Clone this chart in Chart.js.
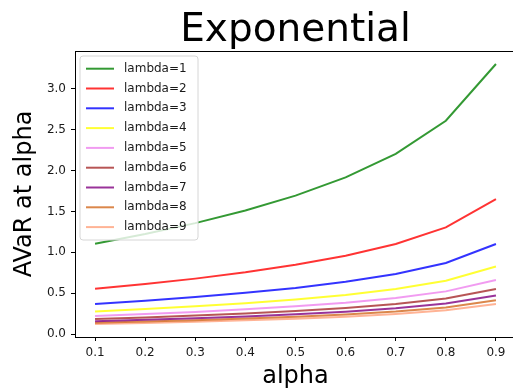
<!DOCTYPE html>
<html>
<head>
<meta charset="utf-8">
<script src="https://cdn.jsdelivr.net/npm/chart.js@4"></script>
<style>
  html, body { margin: 0; padding: 0; background: #fff; overflow: hidden; }
  canvas { display: block; }
</style>
</head>
<body>
<canvas id="myChart" width="520" height="391"></canvas>
<script>
const alphas = [0.1, 0.2, 0.3, 0.4, 0.5, 0.6, 0.7, 0.8, 0.9];

const avar1 = [1.105, 1.223, 1.357, 1.511, 1.693, 1.916, 2.204, 2.609, 3.303];
const avar2 = [0.553, 0.612, 0.678, 0.755, 0.847, 0.958, 1.102, 1.305, 1.651];
const avar3 = [0.368, 0.408, 0.452, 0.504, 0.564, 0.639, 0.735, 0.870, 1.101];
const avar4 = [0.276, 0.306, 0.339, 0.378, 0.423, 0.479, 0.551, 0.652, 0.826];
const avar5 = [0.221, 0.245, 0.271, 0.302, 0.339, 0.383, 0.441, 0.522, 0.661];
const avar6 = [0.184, 0.204, 0.226, 0.252, 0.282, 0.319, 0.367, 0.435, 0.550];
const avar7 = [0.158, 0.175, 0.194, 0.216, 0.242, 0.274, 0.315, 0.373, 0.472];
const avar8 = [0.138, 0.153, 0.170, 0.189, 0.212, 0.240, 0.276, 0.326, 0.413];
const avar9 = [0.123, 0.136, 0.151, 0.168, 0.188, 0.213, 0.245, 0.290, 0.367];

const labels = [
    "lambda=1", "lambda=2", "lambda=3", "lambda=4", "lambda=5",
    "lambda=6", "lambda=7", "lambda=8", "lambda=9",
];

const xTicks = [0.1, 0.2, 0.3, 0.4, 0.5, 0.6, 0.7, 0.8, 0.9];
const yTicks = [0.0, 0.5, 1.0, 1.5, 2.0, 2.5, 3.0];

// matplotlib named colours drawn with alpha 0.8
const colors = [
    'rgba(0,128,0,0.8)',
    'rgba(255,0,0,0.8)',
    'rgba(0,0,255,0.8)',
    'rgba(255,255,0,0.8)',
    'rgba(238,130,238,0.8)',
    'rgba(165,42,42,0.8)',
    'rgba(128,0,128,0.8)',
    'rgba(210,105,30,0.8)',
    'rgba(255,160,122,0.8)',
];

const series = [avar1, avar2, avar3, avar4, avar5, avar6, avar7, avar8, avar9];
const FONT = "'DejaVu Sans', sans-serif";

const datasets = series.map((vals, i) => ({
    label: labels[i],
    data: alphas.map((a, j) => ({x: a, y: vals[j]})),
    borderColor: colors[i],
    backgroundColor: colors[i],
    borderWidth: 2,
    pointRadius: 0,
    tension: 0,
    fill: false,
}));

// box round the plot, and the legend in the upper left corner
const frameAndLegend = {
    id: 'frameAndLegend',
    afterDraw(chart) {
        const c = chart.ctx;
        const a = chart.chartArea;
        c.save();
        c.strokeStyle = '#000';
        c.lineWidth = 1;
        c.strokeRect(Math.round(a.left) + 0.5, Math.round(a.top) + 0.5,
            Math.round(a.right - a.left), Math.round(a.bottom - a.top));

        const bx = 80, by = 56, bw = 118, bh = 184, r = 3;
        c.beginPath();
        c.moveTo(bx + r, by);
        c.arcTo(bx + bw, by, bx + bw, by + bh, r);
        c.arcTo(bx + bw, by + bh, bx, by + bh, r);
        c.arcTo(bx, by + bh, bx, by, r);
        c.arcTo(bx, by, bx + bw, by, r);
        c.closePath();
        c.fillStyle = 'rgba(255,255,255,0.8)';
        c.fill();
        c.strokeStyle = '#d6d6d6';
        c.stroke();

        c.font = '12px ' + FONT;
        c.textBaseline = 'middle';
        c.textAlign = 'left';
        chart.data.datasets.forEach((ds, i) => {
            const y = 68.7 + i * 19.8;
            c.strokeStyle = ds.borderColor;
            c.lineWidth = 2;
            c.beginPath();
            c.moveTo(86, y);
            c.lineTo(114, y);
            c.stroke();
            c.fillStyle = '#1a1a1a';
            c.fillText(ds.label, 124, y);
        });
        c.restore();
    }
};

const config = {
    type: 'line',
    data: {datasets: datasets},
    options: {
        responsive: false,
        animation: false,
        layout: {padding: {left: 0, right: 4, top: 0, bottom: 0}},
        plugins: {
            legend: {display: false},
            tooltip: {enabled: false},
            title: {
                display: true,
                fullSize: false,
                text: 'Exponential',
                color: '#000',
                font: {family: FONT, size: 39, weight: 'normal', lineHeight: 1.0},
                padding: {top: 11.5, bottom: 0.5},
            },
        },
        scales: {
            x: {
                type: 'linear',
                min: 0.06,
                max: 0.94,
                afterBuildTicks: s => { s.ticks = xTicks.map(v => ({value: v})); },
                afterFit: s => { s.height = 54; },
                ticks: {
                    color: '#1a1a1a',
                    font: {family: FONT, size: 12},
                    padding: 5,
                    maxRotation: 0,
                    callback: v => v.toFixed(1),
                },
                grid: {drawOnChartArea: false, drawTicks: true, tickLength: 4, color: '#000'},
                border: {display: true, color: '#000'},
                title: {
                    display: true,
                    text: 'alpha',
                    color: '#000',
                    font: {family: FONT, size: 24},
                    padding: {top: 0, bottom: 0},
                },
            },
            y: {
                type: 'linear',
                min: -0.036,
                max: 3.462,
                afterBuildTicks: s => { s.ticks = yTicks.map(v => ({value: v})); },
                afterFit: s => { s.width = 75; },
                ticks: {
                    color: '#1a1a1a',
                    font: {family: FONT, size: 12},
                    padding: 5,
                    callback: v => v.toFixed(1),
                },
                grid: {drawOnChartArea: false, drawTicks: true, tickLength: 4, color: '#000'},
                border: {display: true, color: '#000'},
                title: {
                    display: true,
                    text: 'AVaR at alpha',
                    color: '#000',
                    font: {family: FONT, size: 24},
                    padding: {top: 10.3, bottom: 0},
                },
            },
        },
    },
    plugins: [frameAndLegend],
};

const myChart = new Chart(document.getElementById('myChart').getContext('2d'), config);
</script>
</body>
</html>
